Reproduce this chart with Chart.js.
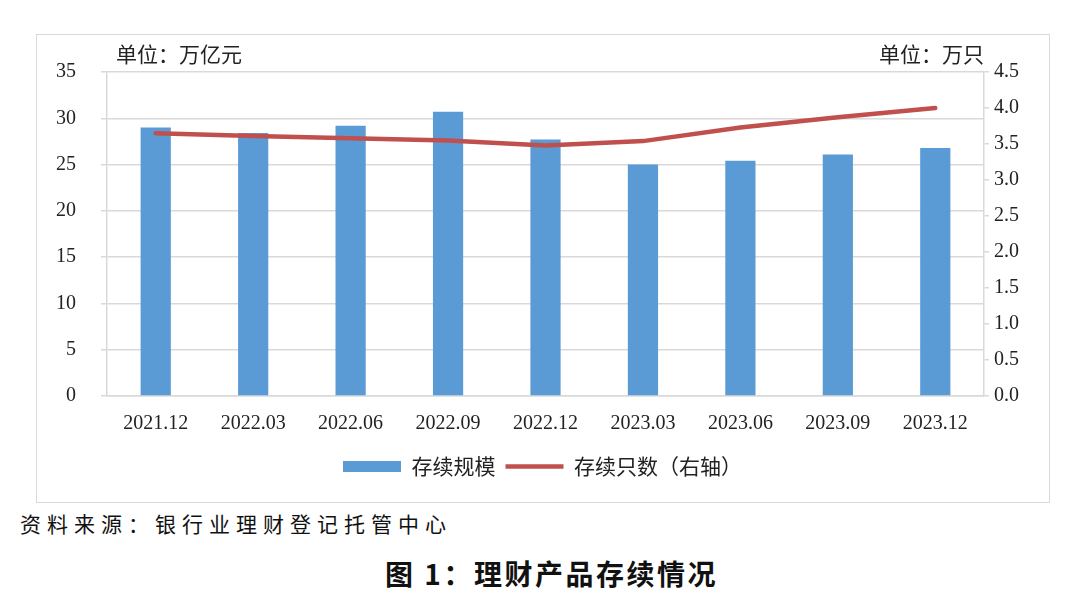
<!DOCTYPE html>
<html lang="zh">
<head>
<meta charset="UTF-8" />
<title>理财产品存续情况</title>
<script src="https://cdn.jsdelivr.net/npm/chart.js"></script>
<style>
  body { margin: 0; background: #fff; width: 1080px; height: 607px; position: relative; overflow: hidden; }
  #box { position: absolute; left: 36px; top: 34px; width: 1014px; height: 469px; border: 1.5px solid #d9d9d9; box-sizing: border-box; }
  #source { position: absolute; left: 20px; top: 508px; font: 21px "Noto Sans CJK SC"; letter-spacing: 6px; color: #111; line-height: 30px; }
  #title { position: absolute; left: 385px; top: 556px; font: bold 28px "Noto Sans CJK SC"; letter-spacing: 2.5px; color: #111; line-height: 34px; }
</style>
</head>
<body>
<div id="box"><canvas id="c" width="1011" height="466"></canvas></div>
<div id="source">资料来源：银行业理财登记托管中心</div>
<div id="title">图 1：理财产品存续情况</div>

<script>
const periods = ['2021.12', '2022.03', '2022.06', '2022.09', '2022.12', '2023.03', '2023.06', '2023.09', '2023.12'];
const scale = [29.0, 28.4, 29.2, 30.7, 27.7, 25.0, 25.4, 26.1, 26.8];   // 存续规模, 万亿元
const count = [3.65, 3.61, 3.58, 3.55, 3.48, 3.54, 3.73, 3.87, 4.00];  // 存续只数, 万只

const gray = '#d9d9d9';
const tickFont = { family: 'Liberation Serif', size: 20 };

// unit labels above the plot
const unitLabels = {
  id: 'unitLabels',
  afterDraw(chart) {
    const { ctx, chartArea } = chart;
    ctx.save();
    ctx.font = '21px "Noto Sans CJK SC"';
    ctx.fillStyle = '#222';
    ctx.textBaseline = 'middle';
    ctx.textAlign = 'left';
    ctx.fillText('单位：万亿元', chartArea.left + 9, chartArea.top - 18);
    ctx.textAlign = 'right';
    ctx.fillText('单位：万只', chartArea.right, chartArea.top - 18);
    ctx.restore();
  }
};

new Chart(document.getElementById('c'), {
  data: {
    labels: periods,
    datasets: [
      {
        type: 'bar',
        label: '存续规模',
        data: scale,
        backgroundColor: '#5b9bd5',
        barPercentage: 0.31,
        categoryPercentage: 1,
        pointStyle: 'rect',
        order: 1,
        yAxisID: 'y'
      },
      {
        type: 'line',
        label: '存续只数（右轴）',
        data: count,
        borderColor: '#c0504d',
        backgroundColor: '#c0504d',
        borderWidth: 4.5,
        borderCapStyle: 'round',
        pointRadius: 0,
        pointStyle: 'line',
        tension: 0,
        order: 0,
        yAxisID: 'y1'
      }
    ]
  },
  options: {
    responsive: false,
    animation: false,
    layout: { padding: { top: 35, bottom: 14, left: 0, right: 0 } },
    plugins: {
      tooltip: { enabled: false },
      legend: {
        position: 'bottom',
        labels: {
          usePointStyle: true,
          pointStyleWidth: 58,
          boxHeight: 11,
          padding: 10,
          color: '#222',
          font: { family: 'Noto Sans CJK SC', size: 21 },
          sort: (a, b) => a.datasetIndex - b.datasetIndex
        }
      }
    },
    scales: {
      x: {
        grid: { display: false, drawTicks: false },
        border: { display: true, color: gray, width: 1.5 },
        ticks: { color: '#222', font: tickFont, padding: 16, maxRotation: 0, autoSkip: false },
        afterFit: s => { s.height = 50; }
      },
      y: {
        position: 'left',
        min: 0, max: 35,
        ticks: { stepSize: 5, color: '#222', font: tickFont, padding: 25 },
        grid: { color: gray, lineWidth: 1.5, tickLength: 6 },
        border: { display: true, color: gray, width: 1.5 },
        afterFit: s => { s.width = 70; }
      },
      y1: {
        position: 'right',
        min: 0, max: 4.5,
        ticks: { stepSize: 0.5, color: '#222', font: tickFont, padding: 5, callback: v => v.toFixed(1) },
        grid: { drawOnChartArea: false, color: gray, lineWidth: 1.5, tickLength: 5 },
        border: { display: true, color: gray, width: 1.5 },
        afterFit: s => { s.width = 64; }
      }
    }
  },
  plugins: [unitLabels]
});
</script>
</body>
</html>
